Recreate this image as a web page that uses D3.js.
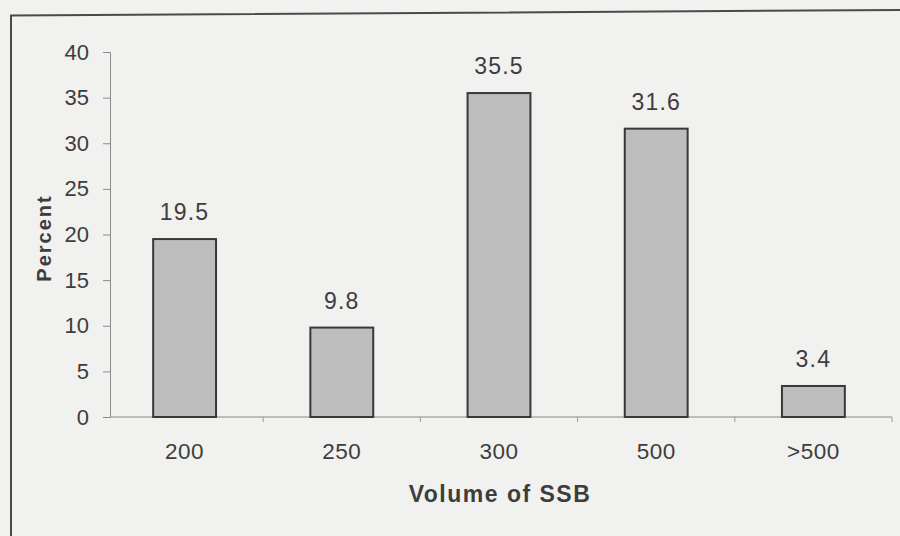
<!DOCTYPE html>
<html>
<head>
<meta charset="utf-8">
<script src="https://cdn.jsdelivr.net/npm/d3@7/dist/d3.min.js"></script>
<style>
  html, body { margin: 0; padding: 0; background: #f1f1f0; }
  svg { display: block; }
  text { font-family: "Liberation Sans", Arial, Helvetica, sans-serif; fill: #3d3d3d; }
</style>
</head>
<body>
<svg id="chart" width="900" height="536"></svg>
<script>
// SSB volume distribution (percent of respondents)
const categories = ["200", "250", "300", "500", ">500"];
const percents = [19.5, 9.8, 35.5, 31.6, 3.4];
const yTicks = [0, 5, 10, 15, 20, 25, 30, 35, 40];
const xTitle = "Volume of SSB";
const yTitle = "Percent";

const svg = d3.select("#chart");

// page frame
svg.append("path")
  .attr("d", "M11,536 L11,15.5 L900,10")
  .attr("fill", "none")
  .attr("stroke", "#4a4a4a")
  .attr("stroke-width", 2);

const axisX = 110, axisRight = 892;
const x = d3.scaleBand()
  .domain(categories)
  .range([106, axisRight])
  .paddingInner(0.6)
  .paddingOuter(0.3);
const y = d3.scaleLinear().domain([0, 40]).range([417, 52]);

// y axis
const yAxis = svg.append("g")
  .attr("transform", `translate(${axisX},0)`)
  .call(d3.axisLeft(y).tickValues(yTicks).tickSize(7).tickPadding(14));
yAxis.select(".domain").attr("stroke", "#8a8a8a").attr("stroke-width", 1);
yAxis.selectAll(".tick line").attr("stroke", "#8a8a8a");
yAxis.selectAll(".tick text")
  .attr("font-size", 22)
  .attr("fill", "#3d3d3d")
  .attr("font-family", "Liberation Sans, Arial, sans-serif");

// x axis baseline with boundary ticks between categories
const step = x.step();
const xAxis = svg.append("g");
xAxis.append("line")
  .attr("x1", axisX).attr("x2", axisRight)
  .attr("y1", y(0)).attr("y2", y(0))
  .attr("stroke", "#8a8a8a").attr("stroke-width", 1);
xAxis.selectAll("line.bnd")
  .data(categories.slice(1))
  .join("line")
  .attr("class", "bnd")
  .attr("x1", d => x(d) - x.paddingInner() * step / 2)
  .attr("x2", d => x(d) - x.paddingInner() * step / 2)
  .attr("y1", y(0)).attr("y2", y(0) + 5)
  .attr("stroke", "#9a9a9a").attr("stroke-width", 1);
xAxis.append("line")
  .attr("x1", axisRight).attr("x2", axisRight)
  .attr("y1", y(0)).attr("y2", y(0) + 5)
  .attr("stroke", "#9a9a9a");

xAxis.selectAll("text.cat")
  .data(categories)
  .join("text")
  .attr("class", "cat")
  .attr("x", d => x(d) + x.bandwidth() / 2)
  .attr("y", 459)
  .attr("text-anchor", "middle")
  .attr("font-size", 22.5)
  .attr("letter-spacing", 0.5)
  .text(d => d);

// bars
svg.append("g")
  .selectAll("rect")
  .data(categories)
  .join("rect")
  .attr("x", d => x(d))
  .attr("width", x.bandwidth())
  .attr("y", (d, i) => y(percents[i]))
  .attr("height", (d, i) => y(0) - y(percents[i]))
  .attr("fill", "#bdbdbd")
  .attr("stroke", "#383838")
  .attr("stroke-width", 2);

// value labels
svg.append("g")
  .selectAll("text")
  .data(categories)
  .join("text")
  .attr("x", d => x(d) + x.bandwidth() / 2)
  .attr("y", (d, i) => y(percents[i]) - 19)
  .attr("text-anchor", "middle")
  .attr("font-size", 23)
  .attr("letter-spacing", 1.2)
  .text((d, i) => percents[i].toFixed(1));

// axis titles
svg.append("text")
  .attr("x", 500)
  .attr("y", 502)
  .attr("text-anchor", "middle")
  .attr("font-size", 23)
  .attr("font-weight", "bold")
  .attr("letter-spacing", 1.5)
  .text(xTitle);

svg.append("text")
  .attr("transform", "translate(51,238) rotate(-90)")
  .attr("text-anchor", "middle")
  .attr("font-size", 20)
  .attr("font-weight", "bold")
  .attr("letter-spacing", 2)
  .text(yTitle);
</script>
</body>
</html>
